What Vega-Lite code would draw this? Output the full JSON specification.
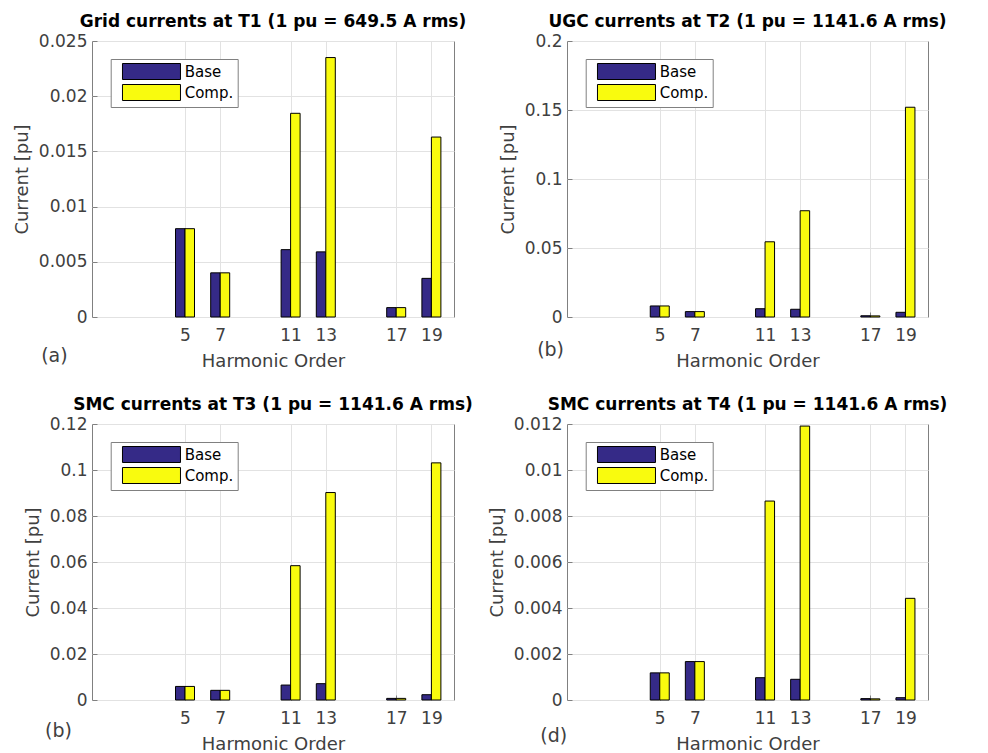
{
  "$schema": "https://vega.github.io/schema/vega-lite/v6.json",
  "padding": {"left": 12, "top": 12, "right": 5, "bottom": 5},
  "background": "white",
  "data": {"values": [
    {"panel": "a", "harmonic": 5, "series": "Base", "value": 0.0080},
    {"panel": "a", "harmonic": 5, "series": "Comp.", "value": 0.0080},
    {"panel": "a", "harmonic": 7, "series": "Base", "value": 0.0040},
    {"panel": "a", "harmonic": 7, "series": "Comp.", "value": 0.0040},
    {"panel": "a", "harmonic": 11, "series": "Base", "value": 0.0061},
    {"panel": "a", "harmonic": 11, "series": "Comp.", "value": 0.01845},
    {"panel": "a", "harmonic": 13, "series": "Base", "value": 0.0059},
    {"panel": "a", "harmonic": 13, "series": "Comp.", "value": 0.0235},
    {"panel": "a", "harmonic": 17, "series": "Base", "value": 0.00085},
    {"panel": "a", "harmonic": 17, "series": "Comp.", "value": 0.00085},
    {"panel": "a", "harmonic": 19, "series": "Base", "value": 0.0035},
    {"panel": "a", "harmonic": 19, "series": "Comp.", "value": 0.0163},
    {"panel": "b", "harmonic": 5, "series": "Base", "value": 0.0080},
    {"panel": "b", "harmonic": 5, "series": "Comp.", "value": 0.0080},
    {"panel": "b", "harmonic": 7, "series": "Base", "value": 0.0039},
    {"panel": "b", "harmonic": 7, "series": "Comp.", "value": 0.0039},
    {"panel": "b", "harmonic": 11, "series": "Base", "value": 0.0060},
    {"panel": "b", "harmonic": 11, "series": "Comp.", "value": 0.0545},
    {"panel": "b", "harmonic": 13, "series": "Base", "value": 0.0056},
    {"panel": "b", "harmonic": 13, "series": "Comp.", "value": 0.0770},
    {"panel": "b", "harmonic": 17, "series": "Base", "value": 0.0009},
    {"panel": "b", "harmonic": 17, "series": "Comp.", "value": 0.0008},
    {"panel": "b", "harmonic": 19, "series": "Base", "value": 0.0034},
    {"panel": "b", "harmonic": 19, "series": "Comp.", "value": 0.1520},
    {"panel": "c", "harmonic": 5, "series": "Base", "value": 0.0059},
    {"panel": "c", "harmonic": 5, "series": "Comp.", "value": 0.0059},
    {"panel": "c", "harmonic": 7, "series": "Base", "value": 0.0042},
    {"panel": "c", "harmonic": 7, "series": "Comp.", "value": 0.0042},
    {"panel": "c", "harmonic": 11, "series": "Base", "value": 0.0065},
    {"panel": "c", "harmonic": 11, "series": "Comp.", "value": 0.0584},
    {"panel": "c", "harmonic": 13, "series": "Base", "value": 0.0071},
    {"panel": "c", "harmonic": 13, "series": "Comp.", "value": 0.0902},
    {"panel": "c", "harmonic": 17, "series": "Base", "value": 0.0007},
    {"panel": "c", "harmonic": 17, "series": "Comp.", "value": 0.0007},
    {"panel": "c", "harmonic": 19, "series": "Base", "value": 0.0023},
    {"panel": "c", "harmonic": 19, "series": "Comp.", "value": 0.1031},
    {"panel": "d", "harmonic": 5, "series": "Base", "value": 0.00118},
    {"panel": "d", "harmonic": 5, "series": "Comp.", "value": 0.00118},
    {"panel": "d", "harmonic": 7, "series": "Base", "value": 0.00167},
    {"panel": "d", "harmonic": 7, "series": "Comp.", "value": 0.00167},
    {"panel": "d", "harmonic": 11, "series": "Base", "value": 0.00097},
    {"panel": "d", "harmonic": 11, "series": "Comp.", "value": 0.00865},
    {"panel": "d", "harmonic": 13, "series": "Base", "value": 0.0009},
    {"panel": "d", "harmonic": 13, "series": "Comp.", "value": 0.01191},
    {"panel": "d", "harmonic": 17, "series": "Base", "value": 0.00006},
    {"panel": "d", "harmonic": 17, "series": "Comp.", "value": 0.00005},
    {"panel": "d", "harmonic": 19, "series": "Base", "value": 0.0001},
    {"panel": "d", "harmonic": 19, "series": "Comp.", "value": 0.00442}
  ]},
  "columns": 2,
  "bounds": "flush",
  "spacing": {"row": 107, "column": 113},
  "resolve": {"legend": {"fill": "independent"}},
  "concat": [
    {
      "width": 362, "height": 276,
      "title": "Grid currents at T1 (1 pu = 649.5 A rms)",
      "transform": [{"filter": "datum.panel == 'a'"}],
      "layer": [
        {"transform": [{"filter": "datum.series == 'Base'"}],
         "mark": {"type": "bar", "width": 9.5, "xOffset": -4.75, "stroke": "black", "strokeWidth": 1, "opacity": 1},
         "encoding": {
           "x": {"field": "harmonic", "type": "quantitative", "scale": {"domain": [0, 20], "nice": false, "zero": false}, "axis": {"values": [5, 7, 11, 13, 17, 19], "title": "Harmonic Order", "labelPadding": 15, "titlePadding": 9}},
           "y": {"field": "value", "type": "quantitative", "stack": null, "scale": {"domain": [0, 0.025], "nice": false}, "axis": {"values": [0, 0.005, 0.01, 0.015, 0.02, 0.025], "format": ".6~g", "title": "Current [pu]"}},
           "fill": {"field": "series", "type": "nominal", "scale": {"domain": ["Base", "Comp."], "range": ["#352A87", "#F9FB0E"]}, "legend": {"title": null, "orient": "none", "legendX": 18.7, "legendY": 18}}
         }},
        {"transform": [{"filter": "datum.series == 'Comp.'"}],
         "mark": {"type": "bar", "width": 9.5, "xOffset": 4.75, "stroke": "black", "strokeWidth": 1, "opacity": 1},
         "encoding": {
           "x": {"field": "harmonic", "type": "quantitative"},
           "y": {"field": "value", "type": "quantitative", "stack": null},
           "fill": {"field": "series", "type": "nominal"}
         }},
        {"transform": [{"filter": "datum.harmonic == 5 && datum.series == 'Base'"}],
         "mark": {"type": "text", "text": "(a)", "fontSize": 19, "fontWeight": "normal", "font": "DejaVu Sans", "align": "center", "baseline": "alphabetic", "color": "#404040"},
         "encoding": {"x": {"datum": -2.42}, "y": {"datum": -0.00405}}}
      ]
    },
    {
      "width": 361, "height": 276,
      "title": "UGC currents at T2 (1 pu = 1141.6 A rms)",
      "transform": [{"filter": "datum.panel == 'b'"}],
      "layer": [
        {"transform": [{"filter": "datum.series == 'Base'"}],
         "mark": {"type": "bar", "width": 9.5, "xOffset": -4.75, "stroke": "black", "strokeWidth": 1, "opacity": 1},
         "encoding": {
           "x": {"field": "harmonic", "type": "quantitative", "scale": {"domain": [0, 20], "nice": false, "zero": false}, "axis": {"values": [5, 7, 11, 13, 17, 19], "title": "Harmonic Order", "labelPadding": 15, "titlePadding": 9}},
           "y": {"field": "value", "type": "quantitative", "stack": null, "scale": {"domain": [0, 0.2], "nice": false}, "axis": {"values": [0, 0.05, 0.1, 0.15, 0.2], "format": ".6~g", "title": "Current [pu]"}},
           "fill": {"field": "series", "type": "nominal", "legend": {"title": null, "orient": "none", "legendX": 18.7, "legendY": 18}}
         }},
        {"transform": [{"filter": "datum.series == 'Comp.'"}],
         "mark": {"type": "bar", "width": 9.5, "xOffset": 4.75, "stroke": "black", "strokeWidth": 1, "opacity": 1},
         "encoding": {
           "x": {"field": "harmonic", "type": "quantitative"},
           "y": {"field": "value", "type": "quantitative", "stack": null},
           "fill": {"field": "series", "type": "nominal"}
         }},
        {"transform": [{"filter": "datum.harmonic == 5 && datum.series == 'Base'"}],
         "mark": {"type": "text", "text": "(b)", "fontSize": 19, "fontWeight": "normal", "font": "DejaVu Sans", "align": "center", "baseline": "alphabetic", "color": "#404040"},
         "encoding": {"x": {"datum": -1.22}, "y": {"datum": -0.028}}}
      ]
    },
    {
      "width": 362, "height": 276,
      "title": "SMC currents at T3 (1 pu = 1141.6 A rms)",
      "transform": [{"filter": "datum.panel == 'c'"}],
      "layer": [
        {"transform": [{"filter": "datum.series == 'Base'"}],
         "mark": {"type": "bar", "width": 9.5, "xOffset": -4.75, "stroke": "black", "strokeWidth": 1, "opacity": 1},
         "encoding": {
           "x": {"field": "harmonic", "type": "quantitative", "scale": {"domain": [0, 20], "nice": false, "zero": false}, "axis": {"values": [5, 7, 11, 13, 17, 19], "title": "Harmonic Order", "labelPadding": 15, "titlePadding": 9}},
           "y": {"field": "value", "type": "quantitative", "stack": null, "scale": {"domain": [0, 0.12], "nice": false}, "axis": {"values": [0, 0.02, 0.04, 0.06, 0.08, 0.1, 0.12], "format": ".6~g", "title": "Current [pu]"}},
           "fill": {"field": "series", "type": "nominal", "legend": {"title": null, "orient": "none", "legendX": 18.7, "legendY": 18}}
         }},
        {"transform": [{"filter": "datum.series == 'Comp.'"}],
         "mark": {"type": "bar", "width": 9.5, "xOffset": 4.75, "stroke": "black", "strokeWidth": 1, "opacity": 1},
         "encoding": {
           "x": {"field": "harmonic", "type": "quantitative"},
           "y": {"field": "value", "type": "quantitative", "stack": null},
           "fill": {"field": "series", "type": "nominal"}
         }},
        {"transform": [{"filter": "datum.harmonic == 5 && datum.series == 'Base'"}],
         "mark": {"type": "text", "text": "(b)", "fontSize": 19, "fontWeight": "normal", "font": "DejaVu Sans", "align": "center", "baseline": "alphabetic", "color": "#404040"},
         "encoding": {"x": {"datum": -2.19}, "y": {"datum": -0.0162}}}
      ]
    },
    {
      "width": 361, "height": 276,
      "title": "SMC currents at T4 (1 pu = 1141.6 A rms)",
      "transform": [{"filter": "datum.panel == 'd'"}],
      "layer": [
        {"transform": [{"filter": "datum.series == 'Base'"}],
         "mark": {"type": "bar", "width": 9.5, "xOffset": -4.75, "stroke": "black", "strokeWidth": 1, "opacity": 1},
         "encoding": {
           "x": {"field": "harmonic", "type": "quantitative", "scale": {"domain": [0, 20], "nice": false, "zero": false}, "axis": {"values": [5, 7, 11, 13, 17, 19], "title": "Harmonic Order", "labelPadding": 15, "titlePadding": 9}},
           "y": {"field": "value", "type": "quantitative", "stack": null, "scale": {"domain": [0, 0.012], "nice": false}, "axis": {"values": [0, 0.002, 0.004, 0.006, 0.008, 0.01, 0.012], "format": ".6~g", "title": "Current [pu]"}},
           "fill": {"field": "series", "type": "nominal", "legend": {"title": null, "orient": "none", "legendX": 18.7, "legendY": 18}}
         }},
        {"transform": [{"filter": "datum.series == 'Comp.'"}],
         "mark": {"type": "bar", "width": 9.5, "xOffset": 4.75, "stroke": "black", "strokeWidth": 1, "opacity": 1},
         "encoding": {
           "x": {"field": "harmonic", "type": "quantitative"},
           "y": {"field": "value", "type": "quantitative", "stack": null},
           "fill": {"field": "series", "type": "nominal"}
         }},
        {"transform": [{"filter": "datum.harmonic == 5 && datum.series == 'Base'"}],
         "mark": {"type": "text", "text": "(d)", "fontSize": 19, "fontWeight": "normal", "font": "DejaVu Sans", "align": "center", "baseline": "alphabetic", "color": "#404040"},
         "encoding": {"x": {"datum": -1.04}, "y": {"datum": -0.00181}}}
      ]
    }
  ],
  "config": {
    "font": "DejaVu Sans",
    "view": {"stroke": "#808080", "strokeWidth": 1},
    "text": {"fontWeight": "normal"},
    "axis": {
      "labelFont": "DejaVu Sans", "labelFontSize": 17, "labelColor": "#404040", "labelFlush": false, "labelOverlap": false,
      "titleFont": "DejaVu Sans", "titleFontSize": 18, "titleFontWeight": "normal", "titleColor": "#404040",
      "gridColor": "#e2e2e2", "gridOpacity": 1, "gridWidth": 1,
      "domain": false, "tickColor": "#808080", "tickSize": -5, "labelPadding": 10, "titlePadding": 7
    },
    "title": {"font": "DejaVu Sans", "fontSize": 17, "fontWeight": "bold", "color": "#000000", "offset": 1, "frame": "group", "anchor": "middle"},
    "legend": {
      "strokeColor": "#808080", "fillColor": "white", "padding": 4,
      "symbolType": "M-0.09,-1H7.16V1H-0.09Z", "symbolSize": 256,
      "symbolStrokeColor": "black", "symbolStrokeWidth": 1, "symbolOpacity": 1,
      "labelFont": "DejaVu Sans", "labelFontSize": 15, "labelColor": "#000000", "labelOffset": 53,
      "rowPadding": 0
    }
  }
}
